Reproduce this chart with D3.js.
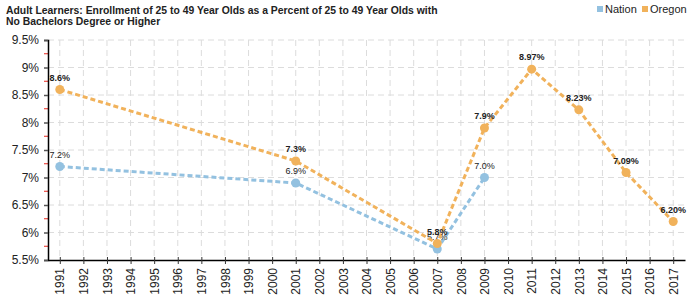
<!DOCTYPE html>
<html>
<head>
<meta charset="utf-8">
<script src="https://cdn.jsdelivr.net/npm/d3@7"></script>
<style>
    body { margin: 0; background: #fff; }
    svg { font-family: "Liberation Sans", Arial, sans-serif; display: block; }
    .grid line { stroke: #dcdcdc; stroke-dasharray: 6,4; }
</style>
</head>
<body>
<svg id="chart" width="700" height="300"></svg>
<script>
var years = d3.range(1991, 2018).map(String);
var yTicks = [5.5, 6, 6.5, 7, 7.5, 8, 8.5, 9, 9.5];

var nationYears = ["1991", "2001", "2007", "2009"];
var nationValues = [7.2, 6.9, 5.7, 7.0];
var nationLabels = ["7.2%", "6.9%", "5.7%", "7.0%"];

var oregonYears = ["1991", "2001", "2007", "2009", "2011", "2013", "2015", "2017"];
var oregonValues = [8.6, 7.3, 5.8, 7.9, 8.97, 8.23, 7.09, 6.20];
var oregonLabels = ["8.6%", "7.3%", "5.8%", "7.9%", "8.97%", "8.23%", "7.09%", "6.20%"];

var svg = d3.select("#chart");
var margin = {top: 40, right: 15, bottom: 40, left: 48};
var width = +svg.attr("width") - margin.left - margin.right;
var height = +svg.attr("height") - margin.top - margin.bottom;

var x = d3.scalePoint().domain(years).range([0, width]).padding(0.5);
var y = d3.scaleLinear().domain([5.5, 9.5]).range([height, 0]);

var g = svg.append("g")
    .attr("transform", "translate(" + margin.left + "," + margin.top + ")");

// grid
g.append("g").attr("class", "grid")
    .selectAll("line").data(yTicks.slice(1)).enter().append("line")
    .attr("x1", 0).attr("x2", width)
    .attr("y1", function (d) { return y(d); })
    .attr("y2", function (d) { return y(d); });
g.append("g").attr("class", "grid")
    .selectAll("line").data(years).enter().append("line")
    .attr("x1", function (d) { return x(d); })
    .attr("x2", function (d) { return x(d); })
    .attr("y1", 0).attr("y2", height);

// minor red ticks on the y axis
g.append("g")
    .selectAll("line").data(d3.range(5.75, 9.5, 0.5)).enter().append("line")
    .attr("x1", -4).attr("x2", 0)
    .attr("y1", function (d) { return y(d); })
    .attr("y2", function (d) { return y(d); })
    .attr("stroke", "#e8261d");

var yAxis = g.append("g")
    .call(d3.axisLeft(y).tickValues(yTicks).tickSize(4).tickPadding(5)
        .tickFormat(function (d) { return d + "%"; }));
yAxis.select(".domain").attr("stroke", "#000").attr("stroke-width", 1.5);
yAxis.selectAll(".tick line").attr("stroke", "#555").attr("stroke-width", 1.5);
yAxis.selectAll("text").attr("font-size", 12).attr("fill", "#222")
    .attr("font-family", "Liberation Sans, Arial, sans-serif");

var xAxis = g.append("g")
    .attr("transform", "translate(0," + height + ")")
    .call(d3.axisBottom(x).tickSizeInner(4).tickSizeOuter(0).tickPadding(6));
xAxis.select(".domain").attr("stroke", "#000").attr("stroke-width", 1.5);
xAxis.selectAll(".tick line").attr("y1", -3).attr("stroke", "#333");
xAxis.selectAll("text")
    .attr("font-size", 12).attr("fill", "#222")
    .attr("font-family", "Liberation Sans, Arial, sans-serif")
    .attr("text-anchor", "end")
    .attr("transform", "rotate(-90)")
    .attr("x", -8).attr("y", 0).attr("dy", "0.35em");

var line = d3.line()
    .x(function (d) { return x(d.year); })
    .y(function (d) { return y(d.value); });

function series(yrs, vals, labels, color, weight) {
    var data = yrs.map(function (yr, i) {
        return {year: yr, value: vals[i], label: labels[i]};
    });
    var s = g.append("g");
    s.append("path").datum(data)
        .attr("d", line)
        .attr("fill", "none")
        .attr("stroke", color)
        .attr("stroke-width", 3)
        .attr("stroke-dasharray", "5,3");
    s.selectAll("circle").data(data).enter().append("circle")
        .attr("cx", function (d) { return x(d.year); })
        .attr("cy", function (d) { return y(d.value); })
        .attr("r", 4.5)
        .attr("fill", color);
    s.selectAll("text").data(data).enter().append("text")
        .attr("x", function (d) { return x(d.year); })
        .attr("y", function (d) { return y(d.value) - 9; })
        .attr("text-anchor", "middle")
        .attr("font-size", 9)
        .attr("font-weight", weight)
        .attr("fill", "#222")
        .text(function (d) { return d.label; });
}

series(nationYears, nationValues, nationLabels, "#93c1e0", "normal");
series(oregonYears, oregonValues, oregonLabels, "#f1b25b", "bold");

// title
var title = svg.append("text")
    .attr("x", 6).attr("y", 14)
    .attr("font-size", 10.4).attr("font-weight", "bold").attr("fill", "#222");
title.append("tspan").attr("x", 6)
    .text("Adult Learners: Enrollment of 25 to 49 Year Olds as a Percent of 25 to 49 Year Olds with");
title.append("tspan").attr("x", 6).attr("dy", 11)
    .text("No Bachelors Degree or Higher");

// legend
var legend = svg.append("g").attr("transform", "translate(597,4)");
[["Nation", "#93c1e0", 0], ["Oregon", "#f1b25b", 45]].forEach(function (d) {
    legend.append("rect").attr("x", d[2]).attr("y", 2).attr("width", 6).attr("height", 6).attr("fill", d[1]);
    legend.append("text").attr("x", d[2] + 8).attr("y", 9)
        .attr("font-size", 11).attr("fill", "#222").text(d[0]);
});
</script>
</body>
</html>
